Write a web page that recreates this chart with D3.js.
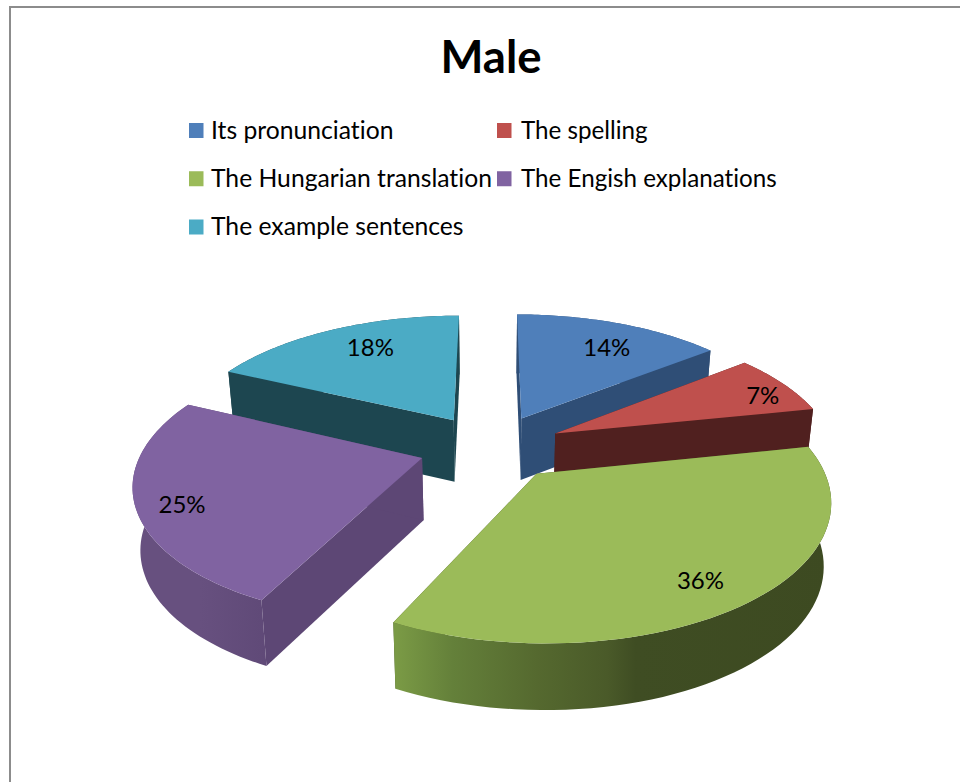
<!DOCTYPE html>
<html>
<head>
<meta charset="utf-8">
<script src="https://cdn.jsdelivr.net/npm/d3@7"></script>
<style>
html,body{margin:0;padding:0;background:#fff;}
svg{display:block;}
text{font-family:Lato,"Open Sans",sans-serif;fill:#000;font-variant-ligatures:none;}
</style>
</head>
<body>
<svg id="c" width="960" height="782"></svg>
<script>
const chartTitle = "Male";
const categories = ["Its pronunciation","The spelling","The Hungarian translation","The Engish explanations","The example sentences"];
const shares = [14.4,7.4,35.5,24.7,18];
const topColors = ["#4f7fba","#bf504d","#9bbb59","#8063a1","#4babc5"];
const wallColors = ["#2f4e76","#50201f","#465526","#5d4775","#1d4650"];
const labelReach = [0.74,0.868,0.83,0.853,0.747];
const labelTurn = [3.5,3.6,2.1,-3.55,3.8];

// Projection model of the tilted, exploded pie: a true perspective on pie space
const W = 960, H = 782;
const cx = 491, cy = 447, R = 287, squeeze = 0.972, tilt = 0.455, persp = 0.00059;
const explode = 72, thickness = 62, converge = 0.022, vanishX = 490;

function project(X, Y, z) {
  const k = 1 / (1 - persp * Y);
  let x = cx + X * k, y = cy + tilt * Y * k;
  if (z) {
    x = vanishX + (x - vanishX) * (1 - converge);
    y += thickness * (0.7 + 0.3 * k);
  }
  return [x, y];
}
const pieGen = d3.pie().sort(null).value(d => d).startAngle(0).endAngle(2 * Math.PI);
const arcs = pieGen(shares);
const line = d3.line();
const polar = (a, r) => [r * Math.sin(a), -r * Math.cos(a)];

const svg = d3.select("#c");
const defs = svg.append("defs");

// page frame
svg.append("rect").attr("x",10).attr("y",7).attr("width",W).attr("height",H)
  .attr("fill","#fff").attr("stroke","#8c8c8c").attr("stroke-width",2);

// title
svg.append("text").attr("x",491).attr("y",73).attr("text-anchor","middle")
  .attr("font-size",45.5).attr("font-weight",700).text(chartTitle);

// legend
const legendX = d3.scaleOrdinal().domain([0,1]).range([189,497]);
const legendY = d3.scalePoint().domain([0,1,2]).range([130.5,227]);
const legend = svg.append("g").selectAll("g").data(categories).join("g")
  .attr("transform",(d,i)=>`translate(${legendX(i%2)},${legendY(Math.floor(i/2))})`);
legend.append("rect").attr("x",0).attr("y",-7.5).attr("width",14.5).attr("height",15)
  .attr("fill",(d,i)=>topColors[i]);
legend.append("text").attr("x",(d,i)=>i%2?24:22).attr("y",8)
  .attr("font-size",(d,i)=>i%2?24.2:24.7).text(d=>d);

// slices: each face is sampled from the pie's angles
const order = [4,0,1,3,2];
const pieG = svg.append("g");
order.forEach(i => {
  const d = arcs[i];
  const mid = (d.startAngle + d.endAngle) / 2;
  const [ox, oy] = polar(mid, explode);
  const rim = d3.range(0, 61).map(j => {
    const [X, Y] = polar(d.startAngle + (d.endAngle - d.startAngle) * j / 60, R);
    return [ox + X * squeeze, oy + Y];
  });
  const gr = pieG.append("g");
  const apexT = project(ox, oy, 0), apexB = project(ox, oy, 1);
  const rimT = rim.map(p => project(p[0], p[1], 0));
  const rimB = rim.map(p => project(p[0], p[1], 1));
  // radial walls
  [[rimT[0],rimB[0]],[rimT[rimT.length-1],rimB[rimB.length-1]]].forEach(([t,b]) => {
    gr.append("path").attr("d", line([apexT,t,b,apexB])+"Z").attr("fill",wallColors[i]);
  });
  // outer rim, with a horizontal gradient
  const id = "rim"+i;
  const grad = defs.append("linearGradient").attr("id",id).attr("gradientUnits","userSpaceOnUse")
    .attr("x1",130).attr("x2",832).attr("y1",0).attr("y2",0);
  const stops = i === 2
    ? [[0.38,"#7a9a45"],[0.46,"#64803a"],[0.58,"#55692f"],[0.68,"#4a5a29"],[0.72,"#3f4d23"],[1,"#3d4a21"]]
    : i === 3
    ? [[0,"#67507f"],[0.1,"#67507f"],[0.2,"#5f4977"],[0.5,"#5d4775"]]
    : [[0,wallColors[i]],[1,wallColors[i]]];
  stops.forEach(s => grad.append("stop").attr("offset",s[0]).attr("stop-color",s[1]));
  gr.append("path").attr("d", line(rimT.concat(rimB.slice().reverse()))+"Z").attr("fill",`url(#${id})`);
  // top surface
  gr.append("path").attr("d", line([apexT].concat(rimT))+"Z").attr("fill",topColors[i]);
  // label
  const [lx, ly] = polar(mid + labelTurn[i] * Math.PI / 180, R * labelReach[i]);
  const p = project(ox + lx * squeeze, oy + ly, 0);
  gr.append("text").attr("x",p[0]).attr("y",p[1]+8).attr("text-anchor","middle")
    .attr("font-size",24).text(d3.format(".0f")(shares[i])+"%");
});
</script>
</body>
</html>
